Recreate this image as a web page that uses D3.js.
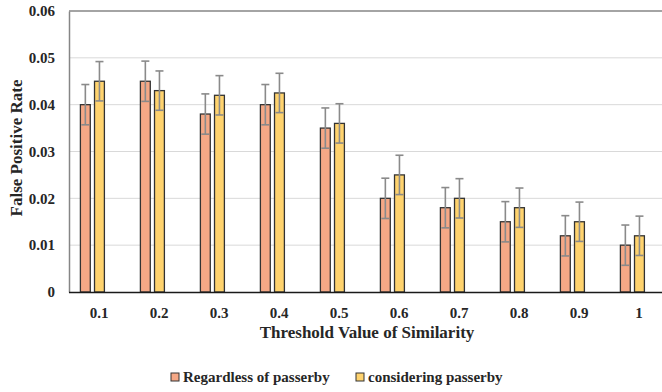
<!DOCTYPE html>
<html><head><meta charset="utf-8">
<script src="https://cdn.jsdelivr.net/npm/d3@7"></script>
<style>body{margin:0;background:#fff;} svg text{font-family:"Liberation Serif","Times New Roman","DejaVu Serif",serif !important;font-weight:bold;}</style>
</head><body><svg id="c" width="662" height="392"></svg>
<script>
const categories = ["0.1","0.2","0.3","0.4","0.5","0.6","0.7","0.8","0.9","1"];
const seriesNames = ["Regardless of passerby","considering passerby"];
const regardless = [0.040,0.045,0.038,0.040,0.035,0.020,0.018,0.015,0.012,0.010];
const considering = [0.045,0.043,0.042,0.0425,0.036,0.025,0.020,0.018,0.015,0.012];
const errRegardless = [0.0043,0.0043,0.0043,0.0043,0.0043,0.0043,0.0043,0.0043,0.0043,0.0043];
const errConsidering = [0.0042,0.0042,0.0042,0.0042,0.0042,0.0042,0.0042,0.0042,0.0042,0.0042];
const yTicks = [0,0.01,0.02,0.03,0.04,0.05,0.06];
const colors = ["#F5A886","#FFD36E"];

const svg = d3.select("#c");
const L=69, R=669, T=11, B=292;
const x = d3.scaleBand().domain(categories).range([L,R]).padding(0);
const y = d3.scaleLinear().domain([0,0.06]).range([B,T]);
const x1 = d3.scaleBand().domain(seriesNames).range([-18.6,5.4]).paddingInner(0.3);

// grid
svg.append("g").selectAll("line").data(yTicks.filter(d=>d>0&&d<0.06)).join("line")
  .attr("x1",L).attr("x2",662).attr("y1",d=>y(d)).attr("y2",d=>y(d))
  .attr("stroke","#d9d9d9").attr("stroke-width",1);
// top border
svg.append("line").attr("x1",L).attr("x2",662).attr("y1",y(0.06)).attr("y2",y(0.06)).attr("stroke","#868686").attr("stroke-width",1.5);

const data = categories.map((c,i)=>({c, vals:[
  {s:seriesNames[0],v:regardless[i],e:errRegardless[i],col:colors[0]},
  {s:seriesNames[1],v:considering[i],e:errConsidering[i],col:colors[1]}]}));

const g = svg.append("g").selectAll("g").data(data).join("g")
  .attr("transform",d=>`translate(${x(d.c)+x.bandwidth()/2},0)`);
g.selectAll("rect").data(d=>d.vals).join("rect")
  .attr("x",d=>x1(d.s)).attr("width",x1.bandwidth())
  .attr("y",d=>y(d.v)).attr("height",d=>B-y(d.v))
  .attr("fill",d=>d.col).attr("stroke","#333").attr("stroke-width",1.3);
const eb = g.selectAll("g.eb").data(d=>d.vals).join("g").attr("class","eb")
  .attr("transform",d=>`translate(${x1(d.s)+x1.bandwidth()/2},0)`);
eb.append("line").attr("y1",d=>y(d.v+d.e)).attr("y2",d=>y(d.v-d.e)).attr("stroke","#8a8a8a").attr("stroke-width",1.6);
eb.append("line").attr("x1",-4).attr("x2",4).attr("y1",d=>y(d.v+d.e)).attr("y2",d=>y(d.v+d.e)).attr("stroke","#8a8a8a").attr("stroke-width",1.6);
eb.append("line").attr("x1",-4).attr("x2",4).attr("y1",d=>y(d.v-d.e)).attr("y2",d=>y(d.v-d.e)).attr("stroke","#8a8a8a").attr("stroke-width",1.6);

// y axis
const ya = svg.append("g").attr("transform",`translate(${L},0)`)
  .call(d3.axisLeft(y).tickValues(yTicks).tickFormat(d=>d===0?"0":d3.format(".2f")(d)).tickSize(0).tickPadding(14));
ya.attr("font-family",null);
ya.select(".domain").attr("stroke","#868686").attr("stroke-width",1.5);
ya.selectAll("text").attr("font-size",15).attr("fill","#262626");

// x axis
const xa = svg.append("g").attr("transform",`translate(0,${B})`)
  .call(d3.axisBottom(x).tickSize(0).tickPadding(15));
xa.attr("font-family",null);
xa.select(".domain").attr("d",`M${L},0.5H662`).attr("stroke","#1a1a1a").attr("stroke-width",1.5);
xa.selectAll("text").attr("font-size",15).attr("fill","#262626");

svg.append("text").attr("x",367).attr("y",338).attr("text-anchor","middle")
  .attr("font-size",17).attr("fill","#262626").text("Threshold Value of Similarity");
svg.append("text").attr("transform","translate(22,148) rotate(-90)").attr("text-anchor","middle")
  .attr("font-size",17).attr("fill","#262626").text("False Positive Rate");

// legend
const leg = [{n:seriesNames[0],c:colors[0],x:171},{n:seriesNames[1],c:colors[1],x:356}];
const lg = svg.append("g").selectAll("g").data(leg).join("g").attr("transform",d=>`translate(${d.x},373)`);
lg.append("rect").attr("width",8).attr("height",8).attr("fill",d=>d.c).attr("stroke","#333").attr("stroke-width",1);
lg.append("text").attr("x",12).attr("y",9).attr("font-size",15).attr("fill","#262626").text(d=>d.n);
</script></body></html>
